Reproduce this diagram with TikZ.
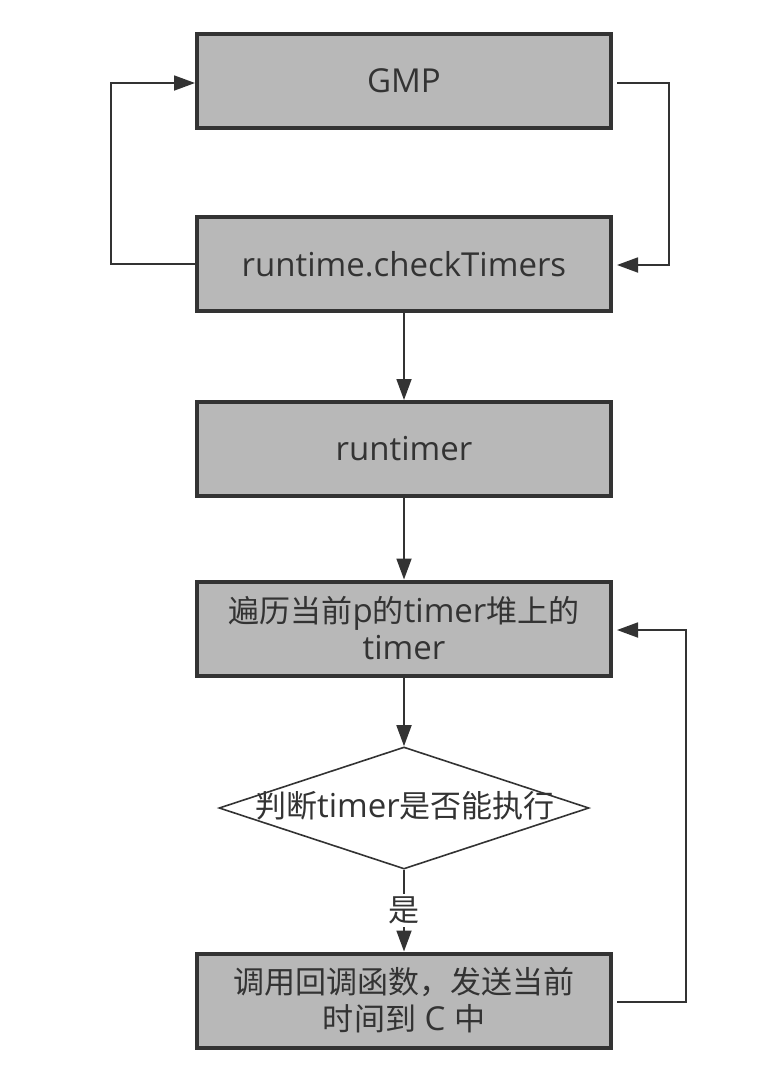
\documentclass[tikz,border=0pt]{standalone}
\usepackage{fontspec}
\setmainfont{Open Sans}
\newfontfamily\cjk[Scale=0.94]{Noto Sans CJK SC}
\usetikzlibrary{arrows.meta,shapes.geometric,positioning}
\definecolor{boxfill}{HTML}{B8B8B8}
\definecolor{ink}{HTML}{333333}
\tikzset{
  procbox/.style={rectangle, draw=ink, fill=boxfill, line width=4pt,
    minimum width=414pt, minimum height=94pt, inner sep=0pt,
    text=ink, font=\fontsize{33}{37}\selectfont, align=center},
  decbox/.style={diamond, draw=ink, fill=white, line width=1.6pt,
    minimum width=370pt, minimum height=122pt, inner sep=0pt, aspect=3.03},
  conn/.style={draw=ink, line width=1.8pt, -{Triangle[length=21pt,width=15pt]}},
  lbl/.style={text=ink, font=\fontsize{33}{37}\selectfont, fill=white, inner sep=3pt}
}
\begin{document}
\begin{tikzpicture}[x=1pt,y=-1pt]
\useasboundingbox (0,0) rectangle (782,1082);
\node[procbox] (gmp) at (404,81) {GMP};
\node[procbox] (chk) at (404,264) {runtime.checkTimers};
\node[procbox] (run) at (404,449) {runtimer};
\node[procbox] (trav) at (404,628.5) {{\cjk 遍历当前}p{\cjk 的}timer{\cjk 堆上的}\\timer};
\node[decbox] (dec) at (404,808) {};
\node[text=ink, font=\fontsize{33}{37}\selectfont] (dectext) at (405,806) {{\cjk 判断}timer{\cjk 是否能执行}};
\node[procbox] (call) at (404,1000.5) {{\cjk 调用回调函数，发送当前}\\{\cjk 时间到} C {\cjk 中}};

\coordinate (l1) at (111,264);
\coordinate (l2) at (111,83);
\draw[conn] (chk.west |- l1) -- (l1) -- (l2) -- (gmp.west |- l2);

\coordinate (r0) at (617,83);
\coordinate (r1) at (669,83);
\coordinate (r2) at (669,265);
\coordinate (r3) at (617,265);
\draw[conn] (r0) -- (r1) -- (r2) -- (r3);

\draw[conn] (chk.south) -- (run.north);
\draw[conn] (run.south) -- (trav.north);
\draw[conn] (trav.south) -- (dec.north);
\draw[conn] (dec.south) -- node[lbl, pos=0.5] (yes) {\cjk 是} (call.north);

\coordinate (b0) at (617,1002);
\coordinate (b1) at (686,1002);
\coordinate (b2) at (686,630);
\coordinate (b3) at (617,630);
\draw[conn] (b0) -- (b1) -- (b2) -- (b3);
\end{tikzpicture}
\end{document}
